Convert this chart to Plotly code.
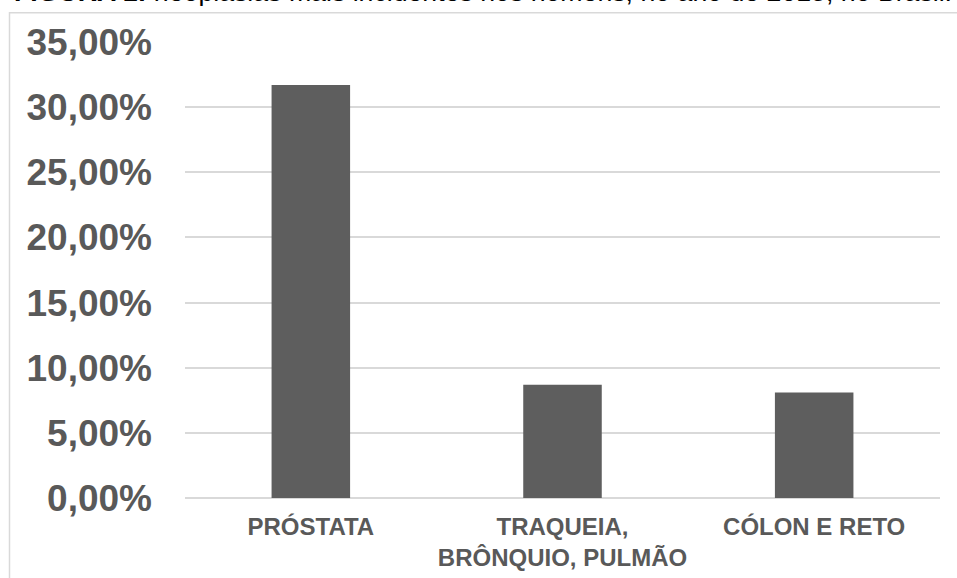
import plotly.graph_objects as go

# Incidence share of the most frequent cancers among men (Brazil, 2018)
categories = ["PRÓSTATA", "TRAQUEIA,<br>BRÔNQUIO, PULMÃO", "CÓLON E RETO"]
shares = [31.7, 8.7, 8.1]
tick_values = [0, 5, 10, 15, 20, 25, 30, 35]
tick_labels = [f"{v:.2f}".replace(".", ",") + "%" for v in tick_values]
title_text = "<b>FIGURA 1:</b> neoplasias mais incidentes nos homens, no ano de 2018, no Brasil."

W, H = 957, 578
L, R, T, B = 185, 17, 42.3, 80.3
plot_w = W - L - R
plot_h = H - T - B


def px_x(p):
    return (p - L) / plot_w


def px_y(p):
    return (H - B - p) / plot_h


BAR = "#5e5e5e"
GRAY = "#595959"
GRID = "#d9d9d9"
FONT = "Liberation Sans, Arial, sans-serif"

fig = go.Figure(
    go.Bar(
        x=list(range(len(categories))),
        y=shares,
        width=0.312,
        marker=dict(color=BAR, line=dict(width=0)),
        hoverinfo="skip",
    )
)

fig.update_layout(
    width=W,
    height=H,
    margin=dict(l=L, r=R, t=T, b=B, pad=0, autoexpand=False),
    paper_bgcolor="white",
    plot_bgcolor="white",
    showlegend=False,
    font=dict(family=FONT, color=GRAY),
    shapes=[
        dict(
            type="rect",
            xref="paper",
            yref="paper",
            x0=px_x(9.5),
            x1=px_x(W + 5),
            y0=px_y(H + 5),
            y1=px_y(13),
            line=dict(color=GRID, width=1.5),
            fillcolor="rgba(0,0,0,0)",
            layer="below",
        )
    ],
    annotations=[
        dict(
            text=title_text,
            xref="paper",
            yref="paper",
            x=px_x(12),
            y=px_y(-8),
            xanchor="left",
            yanchor="middle",
            showarrow=False,
            font=dict(family=FONT, size=26.7, color="black"),
        )
    ],
)

fig.update_xaxes(
    range=[-0.5, len(categories) - 0.5],
    tickmode="array",
    tickvals=list(range(len(categories))),
    ticktext=categories,
    tickfont=dict(family=FONT, size=24, color=GRAY, weight="bold"),
    showgrid=False,
    showline=False,
    zeroline=False,
    ticks="",
    ticklabelstandoff=12,
    automargin=False,
    fixedrange=True,
)

fig.update_yaxes(
    range=[0, 35],
    tickmode="array",
    tickvals=tick_values,
    ticktext=tick_labels,
    tickfont=dict(family=FONT, size=37, color=GRAY, weight="bold"),
    showgrid=True,
    gridcolor=GRID,
    gridwidth=1.5,
    zeroline=True,
    zerolinecolor=GRID,
    zerolinewidth=1.5,
    showline=False,
    ticks="",
    ticklabelstandoff=32,
    automargin=False,
    fixedrange=True,
)

fig.write_html("out.html")
